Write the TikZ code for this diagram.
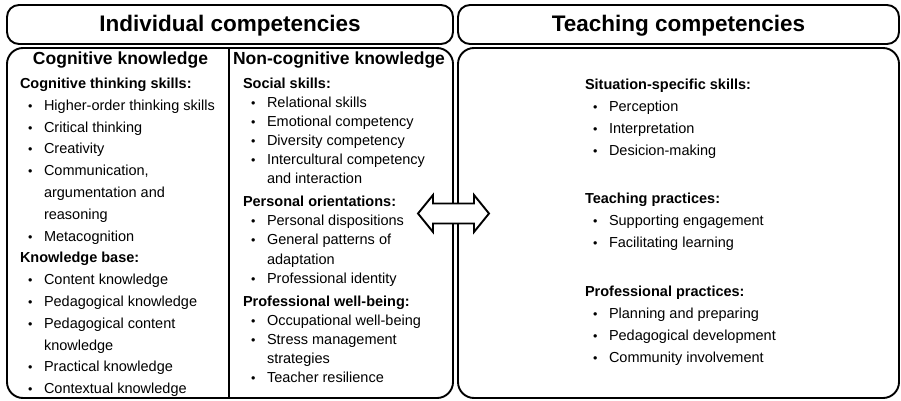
\documentclass[tikz,border=0pt]{standalone}
\usepackage{fontspec}
\setmainfont{Liberation Sans}
\tikzset{
  frame/.style={draw=black, line width=1.9pt, rounded corners=12pt, inner sep=0pt, outer sep=0pt},
  bigframe/.style={frame, rounded corners=16pt},
  divline/.style={draw=black, line width=1.9pt},
  arrowshape/.style={draw=black, fill=white, line width=1.9pt, line join=miter},
  txt/.style={inner sep=0pt, outer sep=0pt, anchor=base west, font=\fontsize{14.5}{17}\selectfont},
  sub/.style={inner sep=0pt, outer sep=0pt, anchor=base west, font=\fontsize{14.5}{17}\selectfont\bfseries},
  colhead/.style={inner sep=0pt, outer sep=0pt, font=\fontsize{17.5}{20}\selectfont\bfseries},
  maintitle/.style={inner sep=0pt, outer sep=0pt, anchor=base, font=\fontsize{22.5}{26}\selectfont\bfseries},
}
\newcommand\bul{\makebox[16pt][l]{\fontsize{12.5}{12}\selectfont\textbullet}}
\begin{document}
\begin{tikzpicture}[x=1pt, y=-1pt]
\useasboundingbox (0,0) rectangle (901,401);
% boxes
\node[frame, minimum width=446, minimum height=39] (hdrL) at (230,24.5) {};
\node[frame, minimum width=441, minimum height=39] (hdrR) at (678.5,24.5) {};
\node[bigframe, minimum width=446, minimum height=350] (boxL) at (230,223) {};
\node[bigframe, minimum width=441, minimum height=350] (boxR) at (678.5,223) {};
\coordinate (dx) at (229,0);
\draw[divline] (boxL.north -| dx) -- (boxL.south -| dx);
% titles
\node[maintitle] (tL) at (230,32) {Individual competencies};
\node[maintitle] (tR) at (678.5,32) {Teaching competencies};
\node[colhead, anchor=base] (cogH) at (120.5,65) {Cognitive knowledge};
\node[colhead, anchor=base west] (ncogH) at (233,65) {Non-cognitive knowledge};
% left column
\node[sub] (l1) at (20,88.5) {Cognitive thinking skills:};
\node[txt] (l2) at (28,110.3) {\bul Higher-order thinking skills};
\node[txt] (l3) at (28,132.1) {\bul Critical thinking};
\node[txt] (l4) at (28,153.9) {\bul Creativity};
\node[txt] (l5) at (28,175.7) {\bul Communication,};
\node[txt] (l6) at (44,197.5) {argumentation and};
\node[txt] (l7) at (44,219.3) {reasoning};
\node[txt] (l8) at (28,241.1) {\bul Metacognition};
\node[sub] (l9) at (20,262.9) {Knowledge base:};
\node[txt] (l10) at (28,284.7) {\bul Content knowledge};
\node[txt] (l11) at (28,306.5) {\bul Pedagogical knowledge};
\node[txt] (l12) at (28,328.3) {\bul Pedagogical content};
\node[txt] (l13) at (44,350.1) {knowledge};
\node[txt] (l14) at (28,371.9) {\bul Practical knowledge};
\node[txt] (l15) at (28,393.7) {\bul Contextual knowledge};
% middle column
\node[sub] (m1) at (243,88.2) {Social skills:};
\node[txt] (m2) at (251,107.3) {\bul Relational skills};
\node[txt] (m3) at (251,126.4) {\bul Emotional competency};
\node[txt] (m4) at (251,145.5) {\bul Diversity competency};
\node[txt] (m5) at (251,164.6) {\bul Intercultural competency};
\node[txt] (m6) at (267,183.7) {and interaction};
\node[sub] (m7) at (243,206.7) {Personal orientations:};
\node[txt] (m8) at (251,225.8) {\bul Personal dispositions};
\node[txt] (m9) at (251,244.9) {\bul General patterns of};
\node[txt] (m10) at (267,264) {adaptation};
\node[txt] (m11) at (251,283.1) {\bul Professional identity};
\node[sub] (m12) at (243,306.1) {Professional well-being:};
\node[txt] (m13) at (251,325.2) {\bul Occupational well-being};
\node[txt] (m14) at (251,344.3) {\bul Stress management};
\node[txt] (m15) at (267,363.4) {strategies};
\node[txt] (m16) at (251,382.5) {\bul Teacher resilience};
% right column
\node[sub] (r1) at (585,89.5) {Situation-specific skills:};
\node[txt] (r2) at (593,111.5) {\bul Perception};
\node[txt] (r3) at (593,133.5) {\bul Interpretation};
\node[txt] (r4) at (593,155.5) {\bul Desicion-making};
\node[sub] (r5) at (585,203.8) {Teaching practices:};
\node[txt] (r6) at (593,225.5) {\bul Supporting engagement};
\node[txt] (r7) at (593,247.2) {\bul Facilitating learning};
\node[sub] (r8) at (585,296.2) {Professional practices:};
\node[txt] (r9) at (593,318.2) {\bul Planning and preparing};
\node[txt] (r10) at (593,340.2) {\bul Pedagogical development};
\node[txt] (r11) at (593,362.2) {\bul Community involvement};
% double arrow
\draw[arrowshape] (418,213.5) -- (433,195) -- (433,203.5) -- (474,203.5) -- (474,195)
  -- (489,213.5) -- (474,232) -- (474,223.5) -- (433,223.5) -- (433,232) -- cycle;
\end{tikzpicture}
\end{document}
